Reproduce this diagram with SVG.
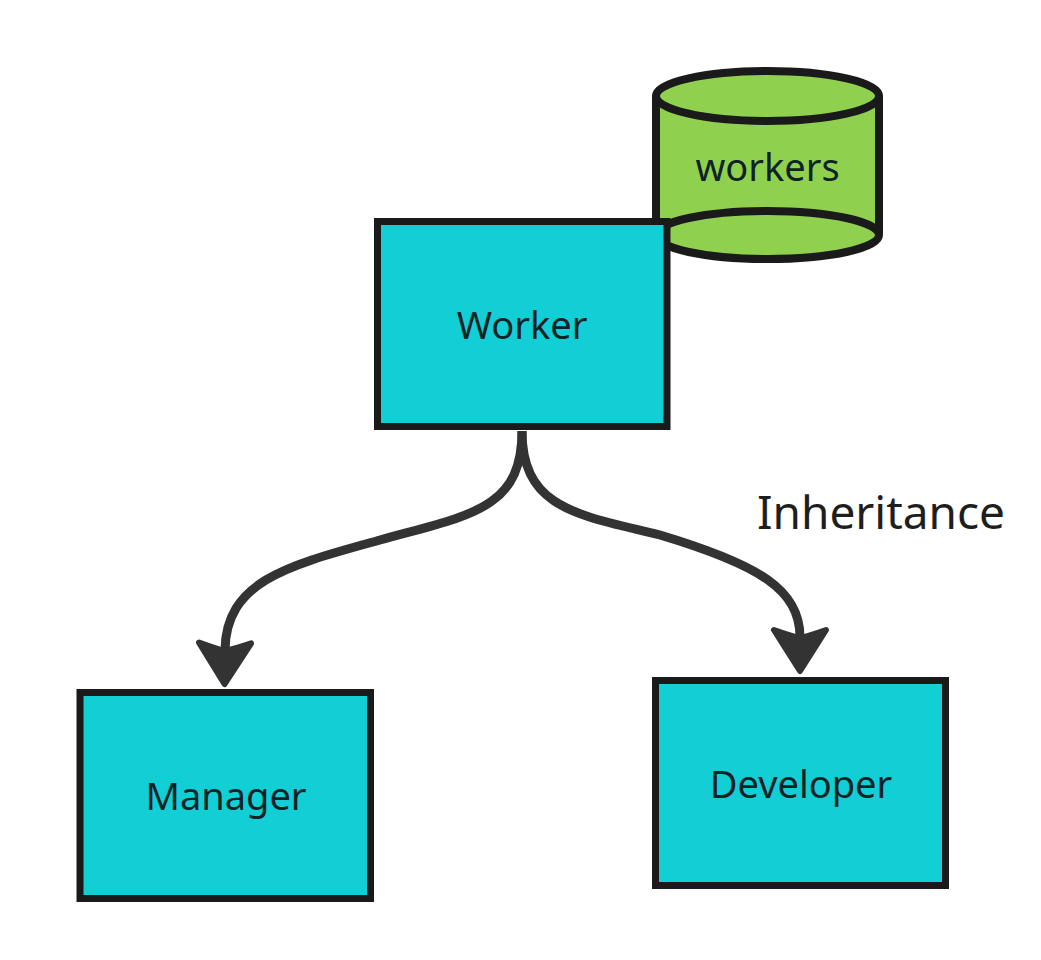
<svg xmlns="http://www.w3.org/2000/svg" width="1041" height="960" viewBox="0 0 1041 960">
  <style>
    .box { fill: #12ced5; stroke: #1a1a1a; stroke-width: 7; }
    .db { fill: #8fd14f; stroke: #1a1a1a; stroke-width: 8; }
    .label { font-family: "Noto Sans", "Open Sans", sans-serif; font-size: 38px; fill: #0f2326; text-anchor: middle; }
    .edge { fill: none; stroke: #333333; stroke-width: 9; stroke-linecap: butt; }
    .edge-label { font-family: "Noto Sans", "Open Sans", sans-serif; font-size: 46px; fill: #1e1e1e; text-anchor: middle; }
  </style>
  <defs>
    <marker id="arrow" markerUnits="userSpaceOnUse" viewBox="-8 -38 66 76" markerWidth="66" markerHeight="76" refX="8" refY="0" orient="auto">
      <path d="M1,-26 L42,0 L1,26 Q7,9 9,0 Q7,-9 1,-26 Z" fill="#333333" stroke="#333333" stroke-width="6" stroke-linejoin="round"/>
    </marker>
  </defs>
  <rect width="1041" height="960" fill="#ffffff"/>

  <g id="workers-db">
    <path class="db" d="M656,96 L656,235 A111.5,24 0 0 0 879,235 L879,96"/>
    <path class="db" d="M656,235 A111.5,24 0 0 1 879,235"/>
    <ellipse class="db" cx="767.5" cy="96" rx="111.5" ry="25"/>
    <text class="label" x="767.5" y="181">workers</text>
  </g>

  <g id="worker">
    <rect class="box" x="377.5" y="221.5" width="289.5" height="205"/>
    <text class="label" x="522" y="339">Worker</text>
  </g>

  <g id="manager">
    <rect class="box" x="80" y="692.5" width="290.5" height="206"/>
    <text class="label" x="226" y="810">Manager</text>
  </g>

  <g id="developer">
    <rect class="box" x="655.5" y="680.5" width="290" height="205"/>
    <text class="label" x="801" y="798">Developer</text>
  </g>

  <g id="connectors">
    <path class="edge" marker-end="url(#arrow)" d="M522,431 C522,510 470,515 380,540 C290,565 226,580 225,650"/>
    <path class="edge" marker-end="url(#arrow)" d="M522,431 C522,510 580,515 660,535 C760,565 800,590 800,637"/>
    <text class="edge-label" x="881" y="529">Inheritance</text>
  </g>
</svg>
